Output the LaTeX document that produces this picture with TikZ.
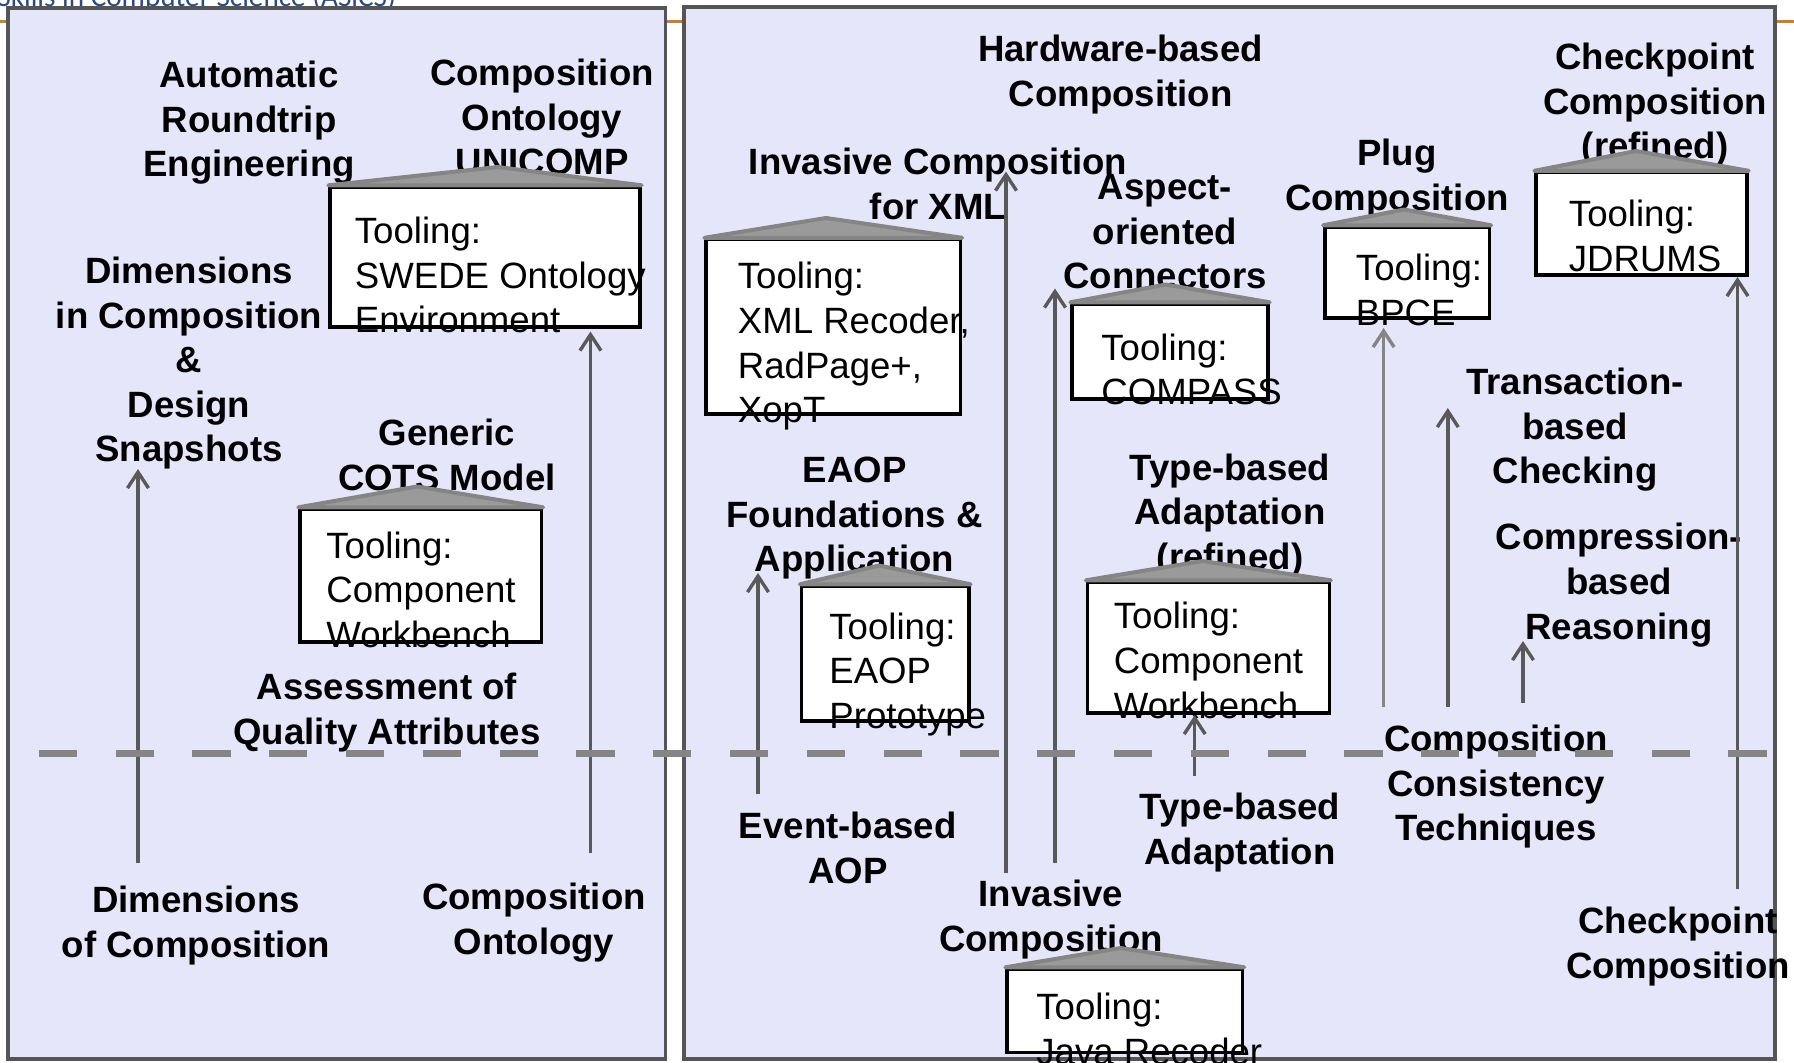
\documentclass[tikz,border=0pt]{standalone}
\usepackage{fontspec}
\setmainfont{Liberation Sans}
\newfontfamily\headerfont{Carlito}
\usetikzlibrary{arrows.meta,fit}

\definecolor{panelfill}{HTML}{E6E6FA}
\definecolor{panelline}{HTML}{555555}
\definecolor{arrowdark}{HTML}{595959}
\definecolor{arrowlight}{HTML}{858585}
\definecolor{roofgray}{HTML}{9A9A9A}
\definecolor{roofedge}{HTML}{858585}
\definecolor{dashgray}{HTML}{858585}
\definecolor{headerrule}{HTML}{C0813F}
\definecolor{headerblue}{HTML}{2B4A7E}

\tikzset{
  panel/.style={draw=panelline, fill=panelfill, line width=1.7pt},
  lbl/.style={font=\bfseries\fontsize{18.3}{22.3}\selectfont, align=center, anchor=north, inner sep=0pt},
  tooltext/.style={font=\fontsize{18.3}{22.3}\selectfont, align=left, anchor=north west, inner sep=0pt},
  toolbox/.style={draw=black, fill=white, line width=1.7pt, inner sep=0pt},
  roof/.style={fill=roofgray, draw=roofedge, line width=2pt, line join=round},
  link/.style={draw=arrowdark, line width=1.7pt, -{Straight Barb[length=8pt,width=10.5pt,line width=1.7pt]}},
  linklight/.style={link, draw=arrowlight},
  divider/.style={draw=dashgray, line width=3.5pt, dash pattern=on 19.1pt off 19.3pt},
}

\begin{document}
\begin{tikzpicture}[x=0.5pt,y=-0.5pt]
\useasboundingbox (0,0) rectangle (1794,1062);

% header remnants
\node[anchor=base west, inner sep=0pt, text=headerblue, font=\headerfont\fontsize{14.6}{17}\selectfont] (header) at (-3,6) {Skills in Computer Science (ASiCS)};
\coordinate (rulel) at (0,21.5);
\coordinate (ruler) at (1794,21.5);
\draw[headerrule, line width=1.5pt] (rulel) -- (ruler);

% the two panels
\path[panel] (8,8) rectangle (665.5,1059);
\path[panel] (684,7) rectangle (1775,1059);

% topic labels, left panel
\node[lbl] (autort) at (249,60.5) {Automatic\\Roundtrip\\Engineering};
\node[lbl] (unicomp) at (542,58.5) {Composition\\Ontology\\UNICOMP};
\node[lbl] (dimdesign) at (189,256.5) {Dimensions\\in Composition\\\&\\Design\\Snapshots};
\node[lbl] (cots) at (446.8,418.5) {Generic\\COTS Model};
\node[lbl] (assess) at (387,672.5) {Assessment of\\Quality Attributes};
\node[lbl] (dimcomp) at (196,885.5) {Dimensions\\of Composition};
\node[lbl] (ontology) at (534,882.5) {Composition\\Ontology};

% topic labels, right panel
\node[lbl] (hwcomp) at (1120.6,34.5) {Hardware-based\\Composition};
\node[lbl] (invxml) at (938,147.5) {Invasive Composition\\for XML};
\node[lbl] (aspect) at (1165,174) {Aspect-\\oriented\\Connectors};
\node[lbl] (plug) at (1397,138.5) {Plug\\Composition};
\node[lbl] (ckref) at (1655,42.5) {Checkpoint\\Composition\\(refined)};
\node[lbl] (trans) at (1575,367.5) {Transaction-\\based\\Checking};
\node[lbl] (compr) at (1619,523) {Compression-\\based\\Reasoning};
\node[lbl] (eaopf) at (854.6,456.7) {EAOP\\Foundations \&\\Application};
\node[lbl] (tbref) at (1230,453.3) {Type-based\\Adaptation\\(refined)};
\node[lbl] (event) at (847.8,811.5) {Event-based\\AOP};
\node[lbl] (tbadapt) at (1240,793) {Type-based\\Adaptation};
\node[lbl] (consist) at (1496,724.5) {Composition\\Consistency\\Techniques};
\node[lbl] (invasive) at (1051,880) {Invasive\\Composition};
\node[lbl] (ckpt) at (1678,906.5) {Checkpoint\\Composition};

% tooling boxes with their roofs
\node[toolbox, fit={(330,187) (640,327)}] (swedebox) {};
\draw[roof] (swedebox.north west) -- (498,167) -- (swedebox.north east) -- cycle;
\node[tooltext] (swedetext) at (354.5,216.5) {Tooling:\\SWEDE Ontology\\Environment};

\node[toolbox, fit={(300,509) (541.5,642)}] (cotsbox) {};
\draw[roof] (cotsbox.north west) -- (417,486.5) -- (cotsbox.north east) -- cycle;
\node[tooltext] (cotstext) at (326,531.1) {Tooling:\\Component\\Workbench};

\node[toolbox, fit={(706,239.5) (960.5,414)}] (xmlbox) {};
\draw[roof] (xmlbox.north west) -- (826,218) -- (xmlbox.north east) -- cycle;
\node[tooltext] (xmltext) at (737.5,262) {Tooling:\\XML Recoder,\\RadPage+,\\XopT};

\node[toolbox, fit={(801.5,586) (969,721)}] (eaopbox) {};
\draw[roof] (eaopbox.north west) -- (879,565.5) -- (eaopbox.north east) -- cycle;
\node[tooltext] (eaoptext) at (829,612.3) {Tooling:\\EAOP\\Prototype};

\node[toolbox, fit={(1072,304) (1268,399)}] (compassbox) {};
\draw[roof] (compassbox.north west) -- (1166,284.5) -- (compassbox.north east) -- cycle;
\node[tooltext] (compasstext) at (1101,333.2) {Tooling:\\COMPASS};

\node[toolbox, fit={(1324.8,227) (1489.5,318)}] (bpcebox) {};
\draw[roof] (bpcebox.north west) -- (1404,209.5) -- (bpcebox.north east) -- cycle;
\node[tooltext] (bpcetext) at (1355.5,253.5) {Tooling:\\BPCE};

\node[toolbox, fit={(1536,172.5) (1747,275)}] (jdrumsbox) {};
\draw[roof] (jdrumsbox.north west) -- (1636,151) -- (jdrumsbox.north east) -- cycle;
\node[tooltext] (jdrumstext) at (1568.5,199.5) {Tooling:\\JDRUMS};

\node[toolbox, fit={(1087.5,582) (1329.2,712.8)}] (tbbox) {};
\draw[roof] (tbbox.north west) -- (1202.5,561) -- (tbbox.north east) -- cycle;
\node[tooltext] (tbtext) at (1113.5,602) {Tooling:\\Component\\Workbench};

\node[toolbox, fit={(1007,969) (1242.6,1052.6)}] (javabox) {};
\draw[roof] (javabox.north west) -- (1120.5,948) -- (javabox.north east) -- cycle;
\node[tooltext] (javatext) at (1036,992.5) {Tooling:\\Java Recoder};

% refinement arrows
\coordinate (a1s) at (138,863);     \coordinate (a1e) at (138,469);
\coordinate (a2s) at (590.5,852.5); \coordinate (a2e) at (590.5,331.5);
\coordinate (a3s) at (758,793.5);   \coordinate (a3e) at (758,573);
\coordinate (a4s) at (1006,872.5);  \coordinate (a4e) at (1006,171.5);
\coordinate (a5s) at (1055,863);    \coordinate (a5e) at (1055,288.5);
\coordinate (a6s) at (1194.7,776);  \coordinate (a6e) at (1194.7,715);
\coordinate (a7s) at (1383.6,706.6);\coordinate (a7e) at (1383.6,328);
\coordinate (a8s) at (1447.8,706.6);\coordinate (a8e) at (1447.8,408);
\coordinate (a9s) at (1523,703);    \coordinate (a9e) at (1523,641);
\coordinate (a10s) at (1737.5,889); \coordinate (a10e) at (1737.5,277);

\draw[link] (a1s) -- (a1e);
\draw[link] (a2s) -- (a2e);
\draw[link] (a3s) -- (a3e);
\draw[link] (a4s) -- (a4e);
\draw[link] (a5s) -- (a5e);
\draw[link] (a6s) -- (a6e);
\draw[linklight] (a7s) -- (a7e);
\draw[link] (a8s) -- (a8e);
\draw[link] (a9s) -- (a9e);
\draw[link] (a10s) -- (a10e);

% dashed divider between foundations and refinements
\coordinate (divl) at (38.8,753);
\coordinate (divr) at (1768,753);
\draw[divider] (divl) -- (divr);
\end{tikzpicture}
\end{document}
